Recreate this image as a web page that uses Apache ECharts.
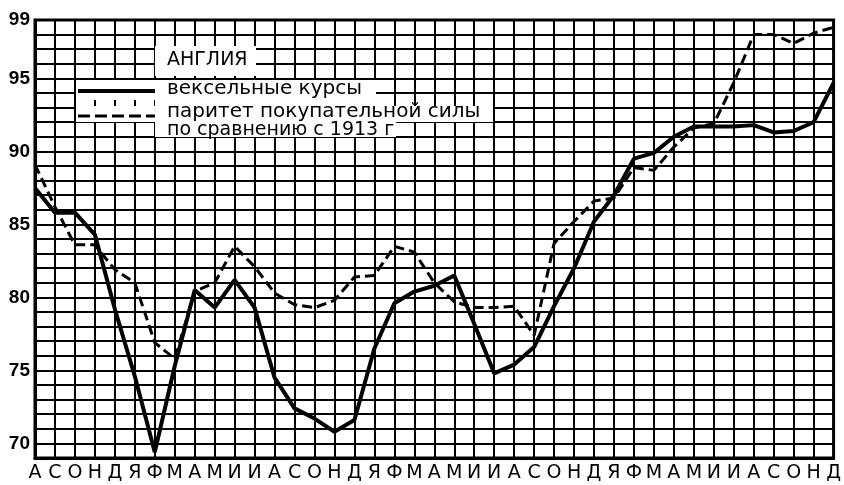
<!DOCTYPE html>
<html>
<head>
<meta charset="utf-8">
<script src="https://cdn.jsdelivr.net/npm/echarts@6/dist/echarts.min.js"></script>
<style>
    html, body { margin: 0; padding: 0; background: #fff; }
    #chart { width: 844px; height: 485px; }
</style>
</head>
<body>
<div id="chart"></div>
<script>
// Months, August to December three and a half years later.
const months = [
    'А', 'С', 'О', 'Н', 'Д',
    'Я', 'Ф', 'М', 'А', 'М', 'И', 'И', 'А', 'С', 'О', 'Н', 'Д',
    'Я', 'Ф', 'М', 'А', 'М', 'И', 'И', 'А', 'С', 'О', 'Н', 'Д',
    'Я', 'Ф', 'М', 'А', 'М', 'И', 'И', 'А', 'С', 'О', 'Н', 'Д'
];

// вексельные курсы (solid line)
const exchangeRates = [
    87.5, 85.8, 85.8, 84.3, 79.2, 74.6, 69.4, 75.3, 80.5, 79.3, 81.2, 79.3,
    74.5, 72.4, 71.7, 70.8, 71.6, 76.5, 79.6, 80.4, 80.8, 81.5, 78.2, 74.8,
    75.4, 76.6, 79.4, 82.0, 85.2, 87.0, 89.5, 89.9, 91.0, 91.7, 91.7, 91.7,
    91.8, 91.3, 91.4, 92.0, 94.7
];

// паритет покупательной силы по сравнению с 1913 г (dashed line)
const purchasingParity = [
    89.1, 86.2, 83.6, 83.6, 81.9, 81.0, 76.9, 75.8, 80.4, 81.0, 83.5, 82.1,
    80.3, 79.5, 79.3, 79.8, 81.4, 81.5, 83.5, 83.1, 81.0, 79.7, 79.3, 79.3,
    79.4, 77.4, 83.7, 85.2, 86.6, 86.8, 88.9, 88.7, 90.3, 91.6, 91.9, 94.7,
    98.0, 98.0, 97.4, 98.1, 98.5
];

const yTickLabels = [70, 75, 80, 85, 90, 95, 99];

const font = '"DejaVu Sans", sans-serif';

const chart = echarts.init(document.getElementById('chart'));

// White boxes behind the legend text, the grid shows through the gaps.
const legendBoxes = [
    [155, 46, 101, 30],
    [76, 80, 79, 20],
    [155, 80, 221, 26],
    [76, 106, 417, 16],
    [155, 122, 241, 15]
].map(([x, y, w, h]) => ({
    type: 'rect',
    shape: {x: x, y: y, width: w, height: h},
    style: {fill: '#fff'},
    z: 10
}));

const legendTexts = [
    ['АНГЛИЯ', 60, 19],
    ['вексельные курсы', 89, 20],
    ['паритет покупательной силы', 112, 20],
    ['по сравнению с 1913 г', 130, 19]
].map(([text, y, size]) => ({
    type: 'text',
    x: 167,
    y: y,
    style: {text: text, font: size + 'px ' + font, fill: '#000', verticalAlign: 'middle'},
    z: 11
}));

chart.setOption({
    animation: false,
    backgroundColor: '#fff',
    grid: {
        left: 35, right: 9, top: 20, bottom: 27,
        show: true, borderColor: '#000', borderWidth: 3
    },
    xAxis: {
        type: 'category',
        data: months,
        boundaryGap: false,
        axisLine: {show: true, lineStyle: {color: '#000', width: 3}},
        axisTick: {show: false},
        axisLabel: {interval: 0, color: '#000', fontFamily: font, fontSize: 19, margin: 6},
        splitLine: {show: true, lineStyle: {color: '#000', width: 2}}
    },
    yAxis: {
        type: 'value',
        min: 69,
        max: 99,
        interval: 1,
        axisLine: {show: true, lineStyle: {color: '#000', width: 3}},
        axisTick: {show: false},
        axisLabel: {
            color: '#000', fontFamily: '"Liberation Sans", sans-serif', fontSize: 19,
            fontWeight: 'bold', margin: 5,
            showMaxLabel: true,
            formatter: (v) => yTickLabels.includes(v) ? String(v) : ''
        },
        splitLine: {show: true, lineStyle: {color: '#000', width: 2}}
    },
    series: [
        {
            name: 'вексельные курсы',
            type: 'line',
            data: exchangeRates,
            symbol: 'none',
            lineStyle: {color: '#000', width: 4},
            z: 5
        },
        {
            name: 'паритет покупательной силы',
            type: 'line',
            data: purchasingParity,
            symbol: 'none',
            lineStyle: {color: '#000', width: 3, type: [10, 5]},
            z: 4
        }
    ],
    graphic: [
        ...legendBoxes,
        {
            type: 'line',
            shape: {x1: 78, y1: 91, x2: 155, y2: 91},
            style: {stroke: '#000', lineWidth: 4},
            z: 11
        },
        {
            type: 'line',
            shape: {x1: 78, y1: 116, x2: 155, y2: 116},
            style: {stroke: '#000', lineWidth: 3, lineDash: [12, 5]},
            z: 11
        },
        ...legendTexts
    ]
});
</script>
</body>
</html>
